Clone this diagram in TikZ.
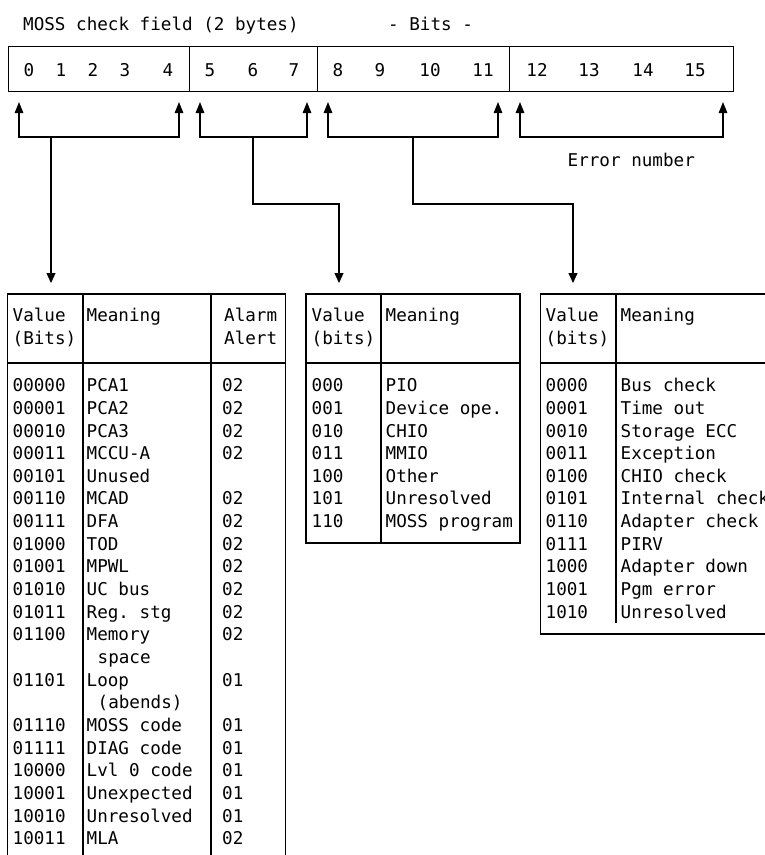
\documentclass[tikz,border=0pt]{standalone}
\usepackage{fontspec}
\setmonofont{DejaVu Sans Mono}
\usetikzlibrary{arrows.meta}
\begin{document}
\begin{tikzpicture}[x=1pt,y=-1pt,
  txt/.style={inner sep=0pt, anchor=base west, font=\ttfamily\fontsize{17.6}{22}\selectfont},
  ctxt/.style={txt, anchor=base},
  ln/.style={line width=1.2pt},
  field/.style={ln, draw, inner sep=0pt, anchor=north west, minimum height=45pt},
  tip/.style={Triangle[width=8.5pt,length=11pt]},
  bracket/.style={ln, {Triangle[width=8.5pt,length=11pt]}-{Triangle[width=8.5pt,length=11pt]}},
  dnar/.style={ln, -{Triangle[width=9pt,length=10pt]}},
]
\useasboundingbox (0,0) rectangle (764,855);

% title texts
\node[txt] (title) at (23,30.7) {MOSS check field (2 bytes)};
\node[txt] (bits) at (388,30.7) {- Bits -};

% bit field box
\node[field, minimum width=181.5pt] (f1) at (7.5,46) {};
\node[field, minimum width=128pt] (f2) at (189,46) {};
\node[field, minimum width=192pt] (f3) at (317,46) {};
\node[field, minimum width=224pt] (f4) at (509,46) {};

\foreach \d/\x in {0/29,1/61,2/93,3/125,4/168,5/210,6/253,7/294,8/338,9/380,10/430,11/483,12/537,13/589,14/643,15/695}
  \node[ctxt] (bit\d) at (\x,76) {\d};

% brackets
\coordinate (t1l) at (19,102);  \coordinate (c1l) at (19,137);
\coordinate (t1r) at (179,102); \coordinate (c1r) at (179,137);
\coordinate (t2l) at (200,102); \coordinate (c2l) at (200,137);
\coordinate (t2r) at (307,102); \coordinate (c2r) at (307,137);
\coordinate (t3l) at (328,102); \coordinate (c3l) at (328,137);
\coordinate (t3r) at (498,102); \coordinate (c3r) at (498,137);
\coordinate (t4l) at (520,102); \coordinate (c4l) at (520,137);
\coordinate (t4r) at (723,102); \coordinate (c4r) at (723,137);
\draw[bracket] (t1l) -- (c1l) -- (c1r) -- (t1r);
\draw[bracket] (t2l) -- (c2l) -- (c2r) -- (t2r);
\draw[bracket] (t3l) -- (c3l) -- (c3r) -- (t3r);
\draw[bracket] (t4l) -- (c4l) -- (c4r) -- (t4r);

\node[txt] (errnum) at (567.5,166) {Error number};

% stems to tables
\coordinate (s1) at (51,137);  \coordinate (e1) at (51,283);
\coordinate (s2) at (253,137); \coordinate (k2a) at (253,204); \coordinate (k2b) at (339,204); \coordinate (e2) at (339,283);
\coordinate (s3) at (413,137); \coordinate (k3a) at (413,204); \coordinate (k3b) at (573,204); \coordinate (e3) at (573,283);
\draw[dnar] (s1) -- (e1);
\draw[dnar] (s2) -- (k2a) -- (k2b) -- (e2);
\draw[dnar] (s3) -- (k3a) -- (k3b) -- (e3);

% left table
\draw[ln] (7.5,857) -- (7.5,294) -- (285.5,294) -- (285.5,857);
\draw[ln] (83,294) -- (83,857);
\draw[ln] (211,294) -- (211,857);
\draw[ln] (7.5,363) -- (285.5,363);
\node[txt] (lh1) at (12.5,321.5) {Value};
\node[txt] (lh2) at (12.5,344) {(Bits)};
\node[txt] (lh3) at (86.5,321.5) {Meaning};
\node[txt] (lh4) at (224,321.5) {Alarm};
\node[txt] (lh5) at (224,344) {Alert};
\foreach \i/\v/\m/\a in {0/00000/PCA1/02,1/00001/PCA2/02,2/00010/PCA3/02,3/00011/MCCU-A/02,
  4/00101/Unused/,5/00110/MCAD/02,6/00111/DFA/02,7/01000/TOD/02,8/01001/MPWL/02,
  9/01010/UC bus/02,10/01011/Reg. stg/02,11/01100/Memory/02,13/01101/Loop/01,
  15/01110/MOSS code/01,16/01111/DIAG code/01,17/10000/Lvl 0 code/01,
  18/10001/Unexpected/01,19/10010/Unresolved/01,20/10011/MLA/02}{
  \node[txt] (lv\i) at (12.5,{391.7+22.65*\i}) {\v};
  \node[txt] (lm\i) at (86.5,{391.7+22.65*\i}) {\m};
  \node[txt] (la\i) at (222,{391.7+22.65*\i}) {\a};
}
\node[txt] (lm12) at (97.5,{391.7+22.65*12}) {space};
\node[txt] (lm14) at (97.5,{391.7+22.65*14}) {(abends)};

% middle table
\draw[ln] (306,294) rectangle (520,543);
\draw[ln] (381,294) -- (381,543);
\draw[ln] (306,363) -- (520,363);
\node[txt] (mh1) at (311.5,321.5) {Value};
\node[txt] (mh2) at (311.5,344) {(bits)};
\node[txt] (mh3) at (385.5,321.5) {Meaning};
\foreach \i/\v/\m in {0/000/PIO,1/001/Device ope.,2/010/CHIO,3/011/MMIO,4/100/Other,5/101/Unresolved,6/110/MOSS program}{
  \node[txt] (mv\i) at (311.5,{391.7+22.65*\i}) {\v};
  \node[txt] (mm\i) at (385.5,{391.7+22.65*\i}) {\m};
}

% right table
\draw[ln] (766,294) -- (540.7,294) -- (540.7,634) -- (766,634);
\draw[ln] (540.7,363) -- (766,363);
\draw[ln] (616,294) -- (616,623);
\node[txt] (rh1) at (545.5,321.5) {Value};
\node[txt] (rh2) at (545.5,344) {(bits)};
\node[txt] (rh3) at (620.5,321.5) {Meaning};
\foreach \i/\v/\m in {0/0000/Bus check,1/0001/Time out,2/0010/Storage ECC,3/0011/Exception,
  4/0100/CHIO check,5/0101/Internal check,6/0110/Adapter check,7/0111/PIRV,
  8/1000/Adapter down,9/1001/Pgm error,10/1010/Unresolved}{
  \node[txt] (rv\i) at (545.5,{391.7+22.65*\i}) {\v};
  \node[txt] (rm\i) at (620.5,{391.7+22.65*\i}) {\m};
}
\end{tikzpicture}
\end{document}
